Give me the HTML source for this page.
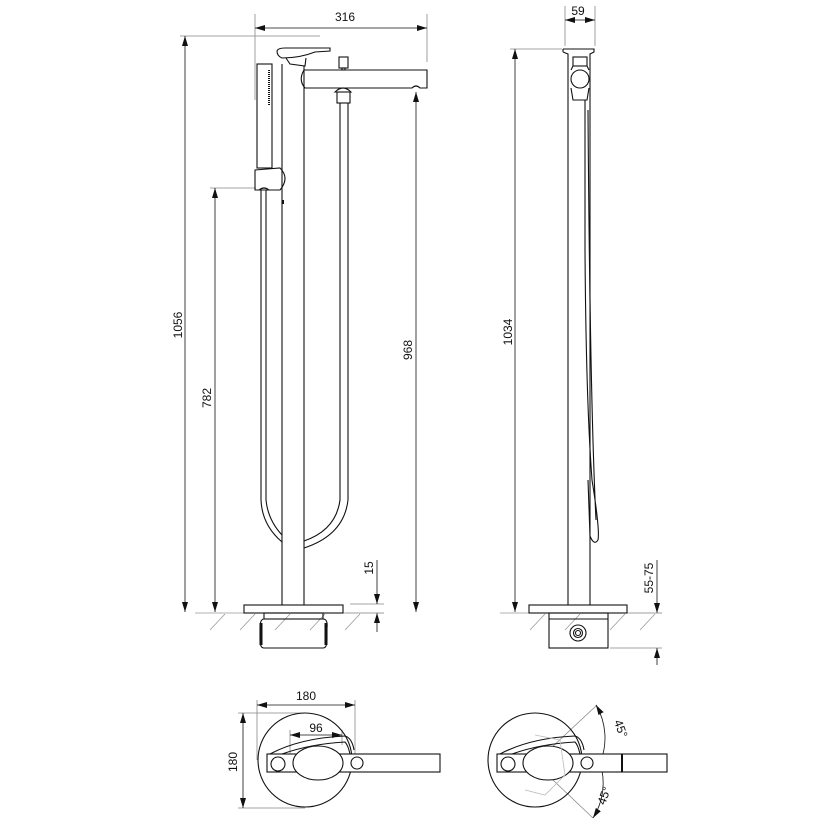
<!DOCTYPE html>
<html><head><meta charset="utf-8"><style>
body{margin:0;background:#fff}
svg{display:block}
text{font-family:"Liberation Sans",sans-serif;font-size:12px;fill:#111}
</style></head><body>
<svg width="830" height="830" viewBox="0 0 830 830" xmlns="http://www.w3.org/2000/svg">
<defs>
<marker id="a" viewBox="0 0 10 6" refX="10" refY="3" markerWidth="10" markerHeight="6" orient="auto-start-reverse" markerUnits="userSpaceOnUse"><path d="M0,0L10,3L0,6z" fill="#111"/></marker>
</defs>
<g stroke="#888" stroke-width="0.8" fill="none">
<!-- front dims -->
<line x1="255" y1="14" x2="255" y2="100"/><line x1="427" y1="14" x2="427" y2="62"/>
<line x1="180" y1="36" x2="320" y2="36"/>
<line x1="210" y1="188" x2="256" y2="188"/>
<line x1="350" y1="604" x2="384" y2="604"/><line x1="345" y1="613" x2="384" y2="613"/>
<!-- side dims -->
<line x1="565" y1="6" x2="565" y2="46"/><line x1="595" y1="6" x2="595" y2="46"/>
<line x1="510" y1="49" x2="562" y2="49"/>
<line x1="610" y1="648" x2="662" y2="648"/><line x1="630" y1="613" x2="662" y2="613"/>
<!-- top dims -->
<line x1="257" y1="700" x2="257" y2="760"/><line x1="355" y1="700" x2="355" y2="760"/>
<line x1="290" y1="730" x2="290" y2="760"/><line x1="342" y1="730" x2="342" y2="745"/>
<line x1="238" y1="713" x2="305" y2="713"/><line x1="238" y1="808" x2="305" y2="808"/>
<line x1="535" y1="763" x2="597" y2="705"/><line x1="535" y1="763" x2="593" y2="818"/>
<line x1="580" y1="763" x2="622" y2="763"/>
</g>
<g stroke="#111" stroke-width="0.8" fill="none">
<line x1="255" y1="28" x2="427" y2="28" marker-start="url(#a)" marker-end="url(#a)"/>
<line x1="185" y1="36" x2="185" y2="612" marker-start="url(#a)" marker-end="url(#a)"/>
<line x1="215" y1="188" x2="215" y2="612" marker-start="url(#a)" marker-end="url(#a)"/>
<line x1="416" y1="92" x2="416" y2="612" marker-start="url(#a)" marker-end="url(#a)"/>
<line x1="377" y1="560" x2="377" y2="604" marker-end="url(#a)"/>
<line x1="377" y1="613" x2="377" y2="632" marker-start="url(#a)"/>
<line x1="565" y1="20" x2="595" y2="20" marker-start="url(#a)" marker-end="url(#a)"/>
<line x1="515" y1="49" x2="515" y2="612" marker-start="url(#a)" marker-end="url(#a)"/>
<line x1="657" y1="560" x2="657" y2="613" marker-end="url(#a)"/>
<line x1="657" y1="648" x2="657" y2="665" marker-start="url(#a)"/>
<line x1="257" y1="705" x2="355" y2="705" marker-start="url(#a)" marker-end="url(#a)"/>
<line x1="290" y1="735" x2="342" y2="735" marker-start="url(#a)" marker-end="url(#a)"/>
<line x1="243" y1="713" x2="243" y2="808" marker-start="url(#a)" marker-end="url(#a)"/>
<path d="M596,705 A65,65 0 0 1 600,763" marker-start="url(#a)"/>
<path d="M600,763 A65,65 0 0 1 593,818" marker-end="url(#a)"/>
</g>
<!-- floors -->
<g stroke="#999" stroke-width="0.8">
<line x1="195" y1="613" x2="384" y2="613"/><line x1="500" y1="613" x2="662" y2="613"/>
<path d="M210,630L225,614M240,630L255,614M275,630L290,614M310,630L325,614M345,630L360,614M530,630L545,614M565,630L580,614M610,630L625,614M640,630L655,614"/>
</g>
<g stroke="#111" stroke-width="1.1" fill="none">
<!-- front view -->
<line x1="282" y1="64" x2="282" y2="605"/><line x1="304" y1="66" x2="304" y2="605"/>
<path d="M277,51 Q278,48 285,48 L330,48 L330,51 L315,52 Q300,58 282,58 Q277,56 277,51z"/>
<path d="M286,58 L290,64 L305,66 L306,58"/>
<path d="M304,70 L427,70 L427,88 L420,88 Q416,84 412,88 L305,88 Q298,80 304,70"/>
<rect x="339" y="57" width="9" height="11"/><rect x="342" y="68" width="3" height="2"/>
<path d="M335,92 Q343,84 351,92z"/><rect x="337" y="92" width="13" height="11"/>
<path d="M340,103 L340,500 Q336,530 304,541 M348,103 L348,500 Q344,535 304,548"/>
<rect x="257" y="64" width="15" height="104"/>
<line x1="269" y1="70" x2="269" y2="106" stroke-width="2" stroke-dasharray="1 1"/>
<path d="M255,170 L280,168 Q290,178 280,190 L255,190z"/>
<path d="M261,190 L261,500 Q262,525 282,542 M266,190 L266,500 Q268,520 282,535"/>
<path d="M259,190 Q264,186 269,190"/>
<line x1="283" y1="200" x2="283" y2="204" stroke-width="2"/>
<rect x="244" y="605" width="99" height="8"/>
<rect x="264" y="613" width="59" height="6"/>
<path d="M264,619 L323,619 Q328,619 327,628 L327,640 Q327,648 323,648 L264,648 Q260,648 260,640 L260,628 Q260,619 264,619z"/>
<line x1="261" y1="623" x2="261" y2="645" stroke-width="3"/><line x1="326" y1="623" x2="326" y2="645" stroke-width="3"/>
<!-- side view -->
<path d="M563,49 L594,49 L594,52 L590,54 L590,605 M563,52 L568,54 L568,605 M563,49 L563,52"/>
<rect x="573" y="57" width="14" height="9"/>
<circle cx="580" cy="79" r="9"/>
<path d="M573,66 L571,70 M587,66 L589,70 M571,88 L573,100 L587,100 L589,88"/>
<path d="M585,100 L585,250 Q586,400 592,480 Q600,530 598,540 Q594,546 590,536 L588,480 M588,110 Q590,400 596,520"/>
<rect x="529" y="605" width="98" height="8"/>
<rect x="549" y="613" width="59" height="35"/><line x1="549" y1="619" x2="608" y2="619"/>
<circle cx="578" cy="633" r="8"/><circle cx="578" cy="633" r="4.5"/><circle cx="578" cy="633" r="2.5"/>
<!-- top views -->
<circle cx="305" cy="760" r="47"/>
<rect x="267" y="754" width="173" height="18" fill="#fff"/>
<path d="M270,754 Q300,738 345,736 Q352,738 354,750 M282,754 Q310,744 345,742 Q348,745 350,754"/>
<ellipse cx="318" cy="763" rx="25" ry="17" fill="#fff"/>
<circle cx="278" cy="764" r="7" fill="#fff"/><circle cx="357" cy="763" r="6" fill="#fff"/>
<circle cx="535" cy="760" r="47"/>
<rect x="497" y="754" width="170" height="18" fill="#fff"/>
<line x1="622" y1="754" x2="622" y2="772" stroke-width="2"/>
<path d="M500,754 Q530,738 575,736 Q582,738 584,750 M512,754 Q540,744 575,742 Q578,745 580,754"/>
<ellipse cx="548" cy="763" rx="25" ry="17" fill="#fff"/>
<circle cx="508" cy="764" r="7" fill="#fff"/><circle cx="587" cy="763" r="6" fill="#fff"/>
</g>
<path d="M535,735 L560,740 L565,775 L545,795 L525,790" stroke="#bbb" fill="none" stroke-width="0.8"/>
<text x="345" y="21" text-anchor="middle">316</text>
<text x="578" y="15" text-anchor="middle">59</text>
<text transform="translate(182,325) rotate(-90)" text-anchor="middle">1056</text>
<text transform="translate(211,398) rotate(-90)" text-anchor="middle">782</text>
<text transform="translate(412,350) rotate(-90)" text-anchor="middle">968</text>
<text transform="translate(512,332) rotate(-90)" text-anchor="middle">1034</text>
<text transform="translate(373,568) rotate(-90)" text-anchor="middle">15</text>
<text transform="translate(653,578) rotate(-90)" text-anchor="middle">55-75</text>
<text x="306" y="700" text-anchor="middle">180</text>
<text x="316" y="732" text-anchor="middle">96</text>
<text transform="translate(237,762) rotate(-90)" text-anchor="middle">180</text>
<text transform="translate(617,730) rotate(70)" text-anchor="middle">45°</text>
<text transform="translate(608,797) rotate(-70)" text-anchor="middle">45°</text>
</svg>
</body></html>
